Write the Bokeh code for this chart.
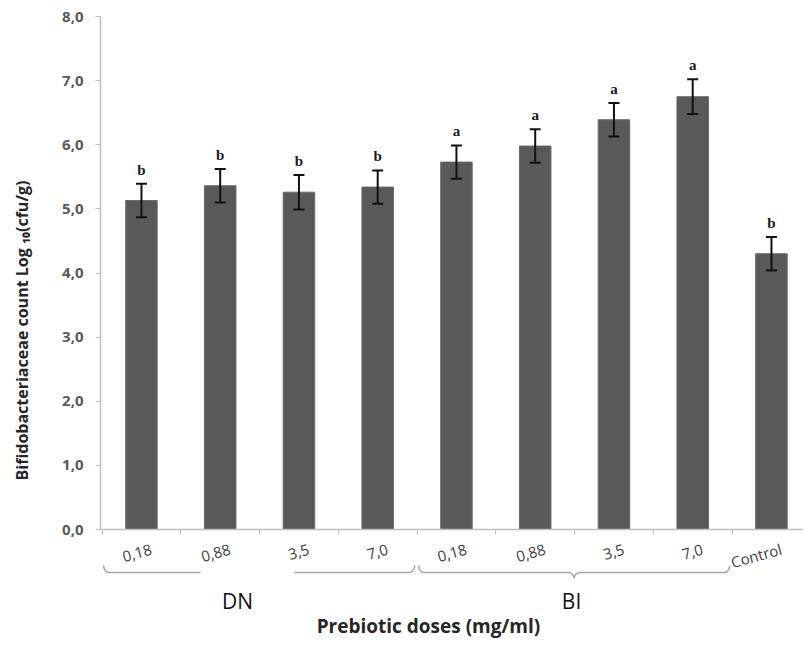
import numpy as np
from bokeh.plotting import figure
from bokeh.models import Range1d, FixedTicker, Whisker, ColumnDataSource, TeeHead
from bokeh.core.properties import value
from bokeh.embed import file_html
from bokeh.resources import INLINE

# ---- data ----
dose_labels = ["0,18", "0,88", "3,5", "7,0", "0,18", "0,88", "3,5", "7,0", "Control"]
counts = [5.13, 5.36, 5.26, 5.34, 5.73, 5.98, 6.39, 6.75, 4.30]
errors = [0.26, 0.26, 0.27, 0.26, 0.26, 0.26, 0.26, 0.27, 0.26]
letters = ["b", "b", "b", "b", "a", "a", "a", "a", "b"]
groups = ["DN", "BI"]
group_members = [[0, 1, 2, 3], [4, 5, 6, 7]]
y_ticks = [0, 1, 2, 3, 4, 5, 6, 7, 8]
y_tick_labels = ["0,0", "1,0", "2,0", "3,0", "4,0", "5,0", "6,0", "7,0", "8,0"]
y_title = "Bifidobacteriaceae count Log \u2081\u2080(cfu/g)"
x_title = "Prebiotic doses (mg/ml)"

# ---- layout constants (pixels) ----
W, H = 803, 644
TOP, LEFT = 16, 100
PX = 513 / 8.0                 # pixels per y unit
FRAME_H = H - TOP
Y_MIN = 8 - FRAME_H / PX       # room below the axis for braces and titles
LABEL_SHIFT = 0.125            # rotated tick labels sit slightly right of the tick

x = np.arange(len(counts))
src = ColumnDataSource(dict(
    x=x, top=counts,
    upper=[c + e for c, e in zip(counts, errors)],
    lower=[c - e for c, e in zip(counts, errors)],
    letter=letters,
))

xr = Range1d(-0.52, -0.52 + (W - LEFT) / 78.75)
p = figure(width=W, height=H, x_range=xr, y_range=Range1d(Y_MIN, 8),
           output_backend="svg", toolbar_location=None,
           min_border_left=LEFT, min_border_right=0, min_border_top=TOP,
           min_border_bottom=0)
p.outline_line_color = None
p.grid.grid_line_color = None

p.vbar(x="x", top="top", width=0.4, source=src,
       fill_color="#595959", line_color="#6a6a6a", line_width=1)

wh = Whisker(base="x", upper="upper", lower="lower", source=src,
             line_color="#111111", line_width=2, level="overlay",
             upper_head=TeeHead(size=11, line_width=2, line_color="#111111"),
             lower_head=TeeHead(size=11, line_width=2, line_color="#111111"))
p.add_layout(wh)

p.text(x="x", y="upper", text="letter", source=src,
       text_align="center", text_baseline="bottom", y_offset=-6,
       text_font=value("Liberation Serif"), text_font_style="bold",
       text_font_size="15px", text_color="#1a1a1a")

# x axis, drawn at y = 0 inside the frame
xa = p.xaxis[0]
xa.fixed_location = 0
label_pos = [i + LABEL_SHIFT for i in range(len(dose_labels))]
xa.ticker = FixedTicker(ticks=label_pos,
                        minor_ticks=[i - 0.5 for i in range(len(dose_labels) + 1)])
xa.major_label_overrides = {t: lab for t, lab in zip(label_pos, dose_labels)}
xa.major_tick_line_color = None
xa.minor_tick_line_color = "#bfbfbf"
xa.minor_tick_out = 5
xa.minor_tick_in = 0
xa.axis_line_color = "#bfbfbf"
xa.axis_line_width = 1.5
xa.major_label_orientation = 0.27
xa.major_label_standoff = 13
xa.major_label_text_font = "Open Sans"
xa.major_label_text_font_size = "15px"
xa.major_label_text_color = "#404040"

# y axis
ya = p.yaxis[0]
ya.bounds = (0, 8)
ya.ticker = FixedTicker(ticks=y_ticks, minor_ticks=[])
ya.major_label_overrides = {t: lab for t, lab in zip(y_ticks, y_tick_labels)}
ya.major_tick_out = 5
ya.major_tick_in = 0
ya.major_tick_line_color = "#bfbfbf"
ya.axis_line_color = "#bfbfbf"
ya.axis_line_width = 1.5
ya.major_label_standoff = 12
ya.major_label_text_font = "Open Sans"
ya.major_label_text_font_style = "bold"
ya.major_label_text_font_size = "15px"
ya.major_label_text_color = "#5a5a5a"
ya.axis_label = y_title
ya.axis_label_standoff = 26
ya.axis_label_text_font = "Open Sans"
ya.axis_label_text_font_style = "bold"
ya.axis_label_text_font_size = "16px"
ya.axis_label_text_color = "#262626"

# ---- group braces, group names, axis title (below the axis) ----
TIP_Y, LINE_Y, POINT_Y = -36 / PX, -43 / PX, -49 / PX
RX = 0.07  # curl half-width in category units
gaps = [(0.75, 1.94), None]  # the reference has a white patch over the DN brace centre


def brace(x0, x1, gap):
    xm = 0.5 * (x0 + x1)
    a = np.linspace(0, np.pi / 2, 8)
    lx = x0 + RX * (1 - np.cos(a)); ly = TIP_Y + (LINE_Y - TIP_Y) * np.sin(a)
    cx1 = xm - RX + RX * np.sin(a); cy1 = LINE_Y + (POINT_Y - LINE_Y) * (1 - np.cos(a))
    cx2 = xm + RX - RX * np.sin(a[::-1]); cy2 = LINE_Y + (POINT_Y - LINE_Y) * (1 - np.cos(a[::-1]))
    rx = x1 - RX * (1 - np.cos(a[::-1])); ry = TIP_Y + (LINE_Y - TIP_Y) * np.sin(a[::-1])
    bx = np.concatenate([lx, cx1, cx2, rx]); by = np.concatenate([ly, cy1, cy2, ry])
    if gap is not None:
        keep_l = bx <= gap[0]; keep_r = bx >= gap[1]
        bx = np.concatenate([bx[keep_l], [gap[0], np.nan, gap[1]], bx[keep_r]])
        by = np.concatenate([by[keep_l], [LINE_Y, np.nan, LINE_Y], by[keep_r]])
    return bx, by


for members, gap in zip(group_members, gaps):
    bx, by = brace(members[0] - 0.48, members[-1] + 0.47, gap)
    p.line(bx, by, line_color="#a6a6a6", line_width=1.5)

group_centers = [np.mean(m) for m in group_members]
group_dx = [-22, -3]
p.text(x=group_centers, y=[0, 0], text=groups, x_offset=group_dx, y_offset=71,
       text_align="center", text_baseline="middle",
       text_font=value("Open Sans"), text_font_size="21px", text_color="#111111")

p.text(x=[np.mean(x)], y=[0], text=[x_title], x_offset=-28, y_offset=96,
       text_align="center", text_baseline="middle",
       text_font=value("Open Sans"), text_font_style="bold",
       text_font_size="19px", text_color="#262626")

open("out.html", "w").write(file_html(p, INLINE))
